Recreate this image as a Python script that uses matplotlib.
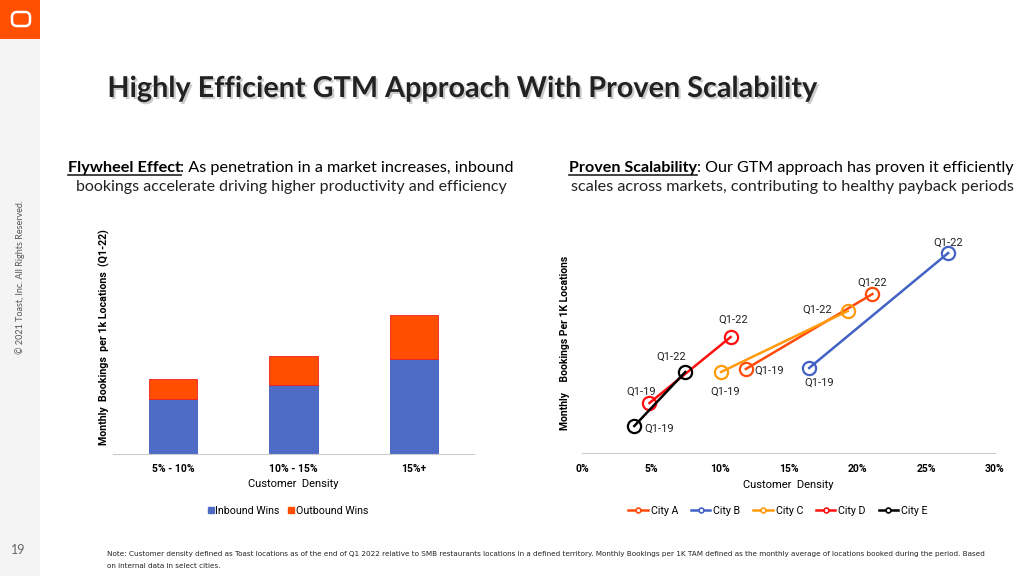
import matplotlib
matplotlib.use('Agg')
import matplotlib.pyplot as plt
import matplotlib.patheffects as pe
from matplotlib.lines import Line2D
from matplotlib.patches import Rectangle, FancyBboxPatch

# ---- left chart: bookings by density bucket (no y scale shown, read in pixel units)
bar_cats = ['5% - 10%', '10% - 15%', '15%+']
inbound_wins = [55, 69, 95]
outbound_wins = [20, 29, 44]

# ---- right chart: Q1-19 -> Q1-22 movement per city
cities = ['City A', 'City B', 'City C', 'City D', 'City E']
city_colors = ['#FF4A0A', '#4262C5', '#FF9A0A', '#FF1010', '#000000']
density_q119 = [11.9, 16.5, 10.1, 4.9, 3.8]
density_q122 = [21.1, 26.6, 19.3, 10.8, 7.5]
bookings_q119 = [84, 85, 81, 50, 27]
bookings_q122 = [159, 200, 142, 116, 81]
x_ticks = [0, 5, 10, 15, 20, 25, 30]

# label offsets (pixels) for Q1-19 / Q1-22 annotations
off_q119 = [(23, -2), (10, -15), (4, -20), (-8, 11), (25, -3)]
off_q122 = [(0, 11), (0, 10), (-31, 1), (3, 17), (-14, 15)]

W, H = 1024, 576
BLUE = '#4E6BC6'
ORANGE = '#FF4E00'
CHART_FONT = ['Roboto', 'DejaVu Sans']
HEAD_FONT = ['Lato', 'DejaVu Sans']

fig = plt.figure(figsize=(W / 100, H / 100), dpi=100, facecolor='white')
renderer = fig.canvas.get_renderer()


def fit_text(x, y, s, width, family, weight='normal', ha='center', **kw):
    # put text in pixel coords (y from top) and scale size to a target width
    t = fig.text(x / W, 1 - y / H, s, fontsize=10, family=family, fontweight=weight,
                 ha=ha, va='baseline', **kw)
    w = t.get_window_extent(renderer).width
    t.set_fontsize(10 * width / w)
    return t


def rich_line(xc, y, parts, width, family):
    # parts: (text, bold, underline); centred at xc, scaled to width
    texts = []
    for s, bold, _ in parts:
        texts.append(fig.text(0, 0, s, fontsize=10, family=family,
                              fontweight='bold' if bold else 'normal', va='baseline'))
    total = sum(t.get_window_extent(renderer).width for t in texts)
    size = 10 * width / total
    x = xc - width / 2
    for t, (s, bold, under) in zip(texts, parts):
        t.set_fontsize(size)
        w = t.get_window_extent(renderer).width
        t.set_position((x / W, 1 - y / H))
        if under:
            fig.add_artist(Line2D([x / W, (x + w) / W], [1 - (y + 2.5) / H] * 2,
                                  color='#222222', lw=1.2))
        x += w


# ---- page decoration
deco = fig.add_axes([0, 0, 1, 1], zorder=-1)
deco.set_xlim(0, W)
deco.set_ylim(H, 0)
deco.axis('off')
deco.add_patch(Rectangle((0, 0), 40, H, color='#F4F4F4', lw=0))
deco.add_patch(Rectangle((0, 0), 40, 39, color='#FF4F00', lw=0))
deco.add_patch(FancyBboxPatch((12, 12), 18, 14, boxstyle='round,pad=0,rounding_size=5',
                              fc='none', ec='white', lw=1.8))
fig.text(20 / W, 1 - 277 / H, '\u00a9 2021 Toast, Inc. All Rights Reserved.', rotation=90,
         ha='center', va='center', fontsize=6.5, color='#555555', family=HEAD_FONT)
fig.text(18 / W, 1 - 550 / H, '19', ha='center', va='center', fontsize=9,
         color='#666666', family=HEAD_FONT)

title = fit_text(462, 97, 'Highly Efficient GTM Approach With Proven Scalability', 711,
                 HEAD_FONT, weight='bold', color='#222222')
title.set_path_effects([pe.withSimplePatchShadow(offset=(1.5, -1.5), shadow_rgbFace='#999999',
                                                 alpha=0.5)])

rich_line(291, 172, [('Flywheel Effect', True, True),
                     (': As penetration in a market increases, inbound', False, False)],
          447, HEAD_FONT)
fit_text(291, 191, 'bookings accelerate driving higher productivity and efficiency', 433,
         HEAD_FONT, color='#222222')
rich_line(792, 172, [('Proven Scalability', True, True),
                     (': Our GTM approach has proven it efficiently', False, False)],
          446, HEAD_FONT)
fit_text(792, 191, 'scales across markets, contributing to healthy payback periods', 446,
         HEAD_FONT, color='#222222')

note1 = ('Note: Customer density defined as Toast locations as of the end of Q1 2022 relative to '
         'SMB restaurants locations in a defined territory. Monthly Bookings per 1K TAM defined as '
         'the monthly average of locations booked during the period. Based')
note_font = ['Liberation Sans Narrow', 'DejaVu Sans']
n1 = fit_text(107, 556, note1, 878, note_font, ha='left', color='#222222')
fig.text(107 / W, 1 - 568 / H, 'on internal data in select cities.', ha='left', va='baseline',
         fontsize=n1.get_fontsize(), family=note_font, color='#222222')

# ---- left: stacked bars
ax1 = fig.add_axes([113 / W, 1 - 454 / H, 361 / W, 234 / H])
pos = range(len(bar_cats))
ax1.bar(pos, inbound_wins, width=0.4, color=BLUE, edgecolor='#3F5CC0', lw=0.6)
ax1.bar(pos, outbound_wins, width=0.4, bottom=inbound_wins, color=ORANGE,
        edgecolor='#F02020', lw=0.6)
ax1.set_xlim(-0.5, 2.5)
ax1.set_ylim(0, 234)
ax1.set_xticks(list(pos))
ax1.set_xticklabels(bar_cats, fontweight='bold', fontsize=7.5, family=CHART_FONT)
ax1.set_yticks([])
ax1.tick_params(axis='x', length=0, pad=7)
ax1.set_xlabel('Customer  Density', fontsize=8, family=CHART_FONT, labelpad=4)
ax1.set_ylabel('Monthly  Bookings  per 1k Locations  (Q1-22)', fontsize=7.7,
               fontweight='bold', family=CHART_FONT)
ax1.yaxis.set_label_coords(-0.008, 0.5)
for side in ['top', 'right', 'left']:
    ax1.spines[side].set_visible(False)
ax1.spines['bottom'].set_color('#CCCCCC')

h_left = [Line2D([], [], ls='none', marker='s', ms=5, color=BLUE),
          Line2D([], [], ls='none', marker='s', ms=5, color=ORANGE)]
fig.legend(h_left, ['Inbound Wins', 'Outbound Wins'], loc='center',
           bbox_to_anchor=(288 / W, 1 - 511 / H), ncol=2, frameon=False,
           prop={'family': CHART_FONT, 'size': 7.7}, handlelength=0.5,
           handletextpad=0.15, columnspacing=0.9)

# ---- right: city trajectories
ax2 = fig.add_axes([582 / W, 1 - 453 / H, 413 / W, 225 / H])
for i, city in enumerate(cities):
    xs = [density_q119[i], density_q122[i]]
    ys = [bookings_q119[i], bookings_q122[i]]
    ax2.plot(xs, ys, '-o', color=city_colors[i], lw=1.8, ms=9.5, mfc='none', mew=1.6)
    ax2.annotate('Q1-19', (xs[0], ys[0]), xytext=off_q119[i], textcoords='offset pixels',
                 ha='center', va='center', fontsize=8, family=CHART_FONT, color='#222222')
    ax2.annotate('Q1-22', (xs[1], ys[1]), xytext=off_q122[i], textcoords='offset pixels',
                 ha='center', va='center', fontsize=8, family=CHART_FONT, color='#222222')
ax2.set_xlim(0, 30)
ax2.set_ylim(0, 225)
ax2.set_xticks(x_ticks)
ax2.set_xticklabels([f'{v}%' for v in x_ticks], fontweight='bold', fontsize=7.5, family=CHART_FONT)
ax2.set_yticks([])
ax2.tick_params(axis='x', length=0, pad=8)
ax2.set_xlabel('Customer  Density', fontsize=8, family=CHART_FONT, labelpad=4)
ax2.set_ylabel('Monthly    Bookings Per 1K Locations', fontsize=7.5, fontweight='bold',
               family=CHART_FONT)
ax2.yaxis.set_label_coords(-0.03, 0.49)
for side in ['top', 'right', 'left']:
    ax2.spines[side].set_visible(False)
ax2.spines['bottom'].set_color('#CCCCCC')

h_right = [Line2D([], [], color=c, lw=1.8, marker='o', ms=3.5, mfc='white', mew=1.2)
           for c in city_colors]
fig.legend(h_right, cities, loc='center', bbox_to_anchor=(778 / W, 1 - 511 / H), ncol=5,
           frameon=False, prop={'family': CHART_FONT, 'size': 7.7}, handlelength=1.8,
           handletextpad=0.3, columnspacing=1.2)

fig.savefig('out.png', dpi=100, facecolor='white')
